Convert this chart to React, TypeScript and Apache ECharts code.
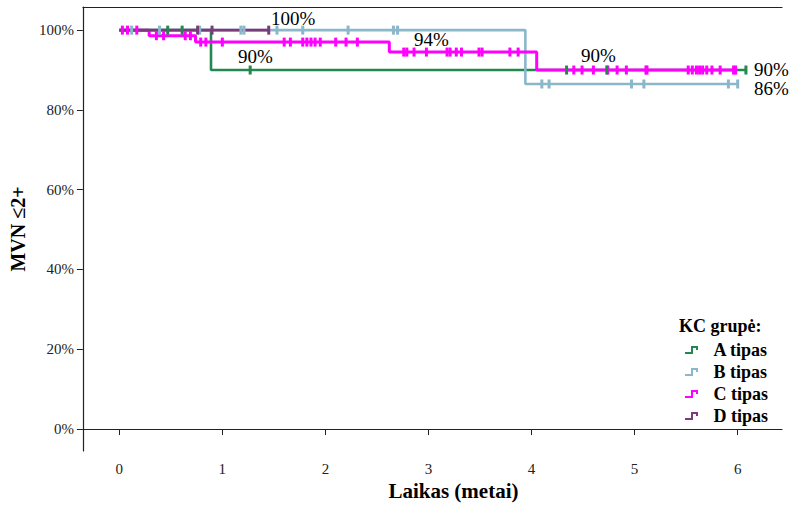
import React, { useEffect, useRef } from "react";
import * as echarts from "echarts";

// Kaplan–Meier step curves: event times (years) and survival level (%) after each time
const timesA = [0, 0.89, 6.08];
const survA = [100, 90, 90];
const censA = [0.47, 0.61, 1.27, 4.34, 4.73, 6.08];

const timesB = [0, 3.94, 6.0];
const survB = [100, 86.5, 86.5];
const censB = [0.12, 0.39, 0.78, 1.18, 1.21, 1.53, 1.78, 2.22, 2.66, 2.7, 4.1, 4.17, 4.97, 5.09, 5.91, 6.0];

const timesC = [0, 0.29, 0.74, 2.62, 4.05, 5.99];
const survC = [100, 98.6, 97, 94.5, 90, 90];
const censC = [
  0.03, 0.08, 0.17,
  0.36, 0.43, 0.64, 0.69,
  0.79, 0.84, 1.0, 1.6, 1.66, 1.78, 1.82, 1.86, 1.9, 1.95, 2.1, 2.2, 2.31,
  2.76, 2.79, 2.86, 2.98, 3.18, 3.21, 3.27, 3.32, 3.49, 3.52, 3.79, 3.87,
  4.41, 4.49, 4.6, 4.74, 4.83, 4.92, 5.11, 5.12, 5.52, 5.56, 5.6, 5.63, 5.66, 5.7, 5.75, 5.83, 5.96, 5.98,
];

const timesD = [0, 1.46];
const survD = [100, 100];
const censD = [0.76, 0.9, 1.45];

const groupNames = ["A tipas", "B tipas", "C tipas", "D tipas"];
const groupColors = ["#23874f", "#8bb7cb", "#ff00ff", "#7b3b7b"];

const xTicks = [0, 1, 2, 3, 4, 5, 6];
const yTicks = [0, 20, 40, 60, 80, 100];

const annotations = [
  { text: "100%", x: 271, y: 18 },
  { text: "90%", x: 238, y: 56 },
  { text: "94%", x: 414, y: 39 },
  { text: "90%", x: 581, y: 55 },
  { text: "90%", x: 754, y: 69 },
  { text: "86%", x: 754, y: 88 },
];

const FONT = "'Liberation Serif', 'Times New Roman', serif";
const stepIcon = "path://M0,7 L6,7 L6,1 L13,1 L13,5 L11,5 L11,3 L8,3 L8,9 L0,9 Z";

function survAt(times: number[], surv: number[], t: number): number {
  let v = surv[0];
  for (let i = 0; i < times.length; i++) {
    if (times[i] <= t) v = surv[i];
  }
  return v;
}

export default function App() {
  const ref = useRef<HTMLDivElement>(null);
  useEffect(() => {
    document.body.style.margin = "0";
    if (!ref.current) return;
    const chart = echarts.init(ref.current, undefined, { renderer: "svg" });
    const groups = [
      { t: timesA, s: survA, c: censA },
      { t: timesB, s: survB, c: censB },
      { t: timesC, s: survC, c: censC },
      { t: timesD, s: survD, c: censD },
    ];
    const lineSeries = groups.map((g, i) => ({
      name: groupNames[i],
      type: "line",
      step: "end",
      symbol: "none",
      data: g.t.map((t, k) => [t, g.s[k]]),
      lineStyle: { color: groupColors[i], width: i === 2 ? 3 : 2.6 },
      itemStyle: { color: groupColors[i] },
      z: 2,
    }));
    const scatterOrder = [1, 3, 2, 0];
    const scatterSeries = scatterOrder.map((i) => ({
      name: groupNames[i],
      type: "scatter",
      symbol: "rect",
      symbolSize: [3, 9],
      data: groups[i].c.map((t) => [t, survAt(groups[i].t, groups[i].s, t)]),
      itemStyle: { color: groupColors[i], opacity: 1 },
      z: 3,
    }));

    chart.setOption({
      animation: false,
      backgroundColor: "#ffffff",
      textStyle: { fontFamily: FONT },
      grid: { left: 82, right: 14, top: 7, bottom: 57, containLabel: false },
      xAxis: [
        {
          type: "value",
          min: -0.353,
          max: 6.43,
          name: "Laikas (metai)",
          nameLocation: "middle",
          nameGap: 28,
          nameTextStyle: {
            fontFamily: FONT,
            fontSize: 21,
            fontWeight: "bold",
            color: "#000",
            padding: [0, 0, 0, 42],
          },
          axisLine: { show: true, lineStyle: { color: "#222", width: 1.2 } },
          axisTick: { show: true, length: 6, customValues: xTicks, lineStyle: { color: "#222" } },
          axisLabel: {
            customValues: xTicks,
            margin: 10,
            fontFamily: FONT,
            fontSize: 15,
            color: "#222",
          },
          splitLine: { show: false },
        },
        {
          type: "value",
          position: "top",
          min: -0.353,
          max: 6.43,
          axisLine: { show: true, onZero: false, lineStyle: { color: "#222", width: 1.2 } },
          axisTick: { show: false },
          axisLabel: { show: false },
          splitLine: { show: false },
        },
      ],
      yAxis: {
        type: "value",
        min: -5.5,
        max: 105.8,
        name: "MVN \u22642+",
        nameLocation: "middle",
        nameGap: 52,
        nameRotate: 90,
        nameTextStyle: { fontFamily: FONT, fontSize: 20, fontWeight: "bold", color: "#000" },
        axisLine: { show: true, onZero: false, lineStyle: { color: "#222", width: 1.2 } },
        axisTick: { show: true, length: 6, customValues: yTicks, lineStyle: { color: "#222" } },
        axisLabel: {
          customValues: yTicks,
          margin: 9,
          fontFamily: FONT,
          fontSize: 15,
          color: "#222",
          formatter: (v: number) => `${v}%`,
        },
        splitLine: { show: false },
      },
      legend: {
        orient: "vertical",
        left: 680,
        top: 336,
        itemWidth: 14,
        itemHeight: 8,
        itemGap: 4,
        selectedMode: false,
        data: groupNames.map((n) => ({ name: n, icon: stepIcon })),
        textStyle: {
          fontFamily: FONT,
          fontSize: 18,
          fontWeight: "bold",
          color: "#000",
          lineHeight: 16,
          padding: [0, 0, 0, 10],
        },
      },
      graphic: [
        {
          type: "text",
          left: 679,
          top: 317,
          style: { text: "KC grupė:", font: `bold 18px ${FONT}`, fill: "#000" },
        },
        ...annotations.map((a) => ({
          type: "text",
          x: a.x,
          y: a.y,
          style: {
            text: a.text,
            font: `19px ${FONT}`,
            fill: "#000",
            textAlign: "left",
            textVerticalAlign: "middle",
          },
          z: 10,
        })),
      ],
      series: [...lineSeries, ...scatterSeries],
    });
    return () => chart.dispose();
  }, []);
  return <div ref={ref} style={{ width: 796, height: 508 }} />;
}
